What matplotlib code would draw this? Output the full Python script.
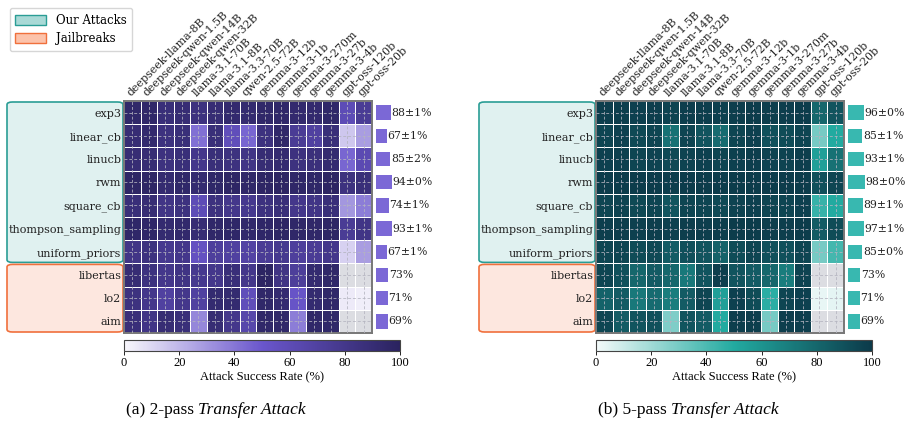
import numpy as np
import matplotlib
matplotlib.use("Agg")
import matplotlib.pyplot as plt
from matplotlib.colors import LinearSegmentedColormap
from matplotlib.patches import FancyBboxPatch, Patch

models = ["deepseek-llama-8B", "deepseek-qwen-1.5B", "deepseek-qwen-14B", "deepseek-qwen-32B",
          "llama-3.1-70B", "llama-3.1-8B", "llama-3.3-70B", "qwen-2.5-72B", "gemma-3-12b",
          "gemma-3-1b", "gemma-3-270m", "gemma-3-27b", "gemma-3-4b", "gpt-oss-120b", "gpt-oss-20b"]
attacks = ["exp3", "linear_cb", "linucb", "rwm", "square_cb", "thompson_sampling",
           "uniform_priors", "libertas", "lo2", "aim"]
n_ours = 7

# 2-pass transfer attack success rate (%)
asr_2pass = [
    [95, 95, 88, 90, 85, 90, 93, 92, 95, 95, 93, 93, 95, 60, 75],
    [90, 93, 85, 88, 42, 88, 58, 45, 85, 95, 75, 70, 88, 15, 28],
    [90, 90, 85, 88, 80, 88, 85, 82, 90, 92, 85, 87, 92, 45, 62],
    [97, 97, 92, 95, 92, 96, 97, 95, 97, 98, 96, 96, 98, 85, 88],
    [88, 90, 82, 85, 60, 85, 80, 78, 85, 88, 80, 82, 88, 30, 38],
    [96, 96, 92, 94, 90, 95, 96, 94, 96, 97, 95, 95, 97, 75, 82],
    [82, 85, 78, 80, 55, 72, 70, 68, 75, 78, 72, 75, 80, 12, 28],
    [90, 85, 80, 83, 78, 80, 88, 80, 98, 83, 73, 92, 95, 0, 0],
    [85, 80, 70, 80, 70, 92, 92, 58, 95, 92, 52, 92, 95, 4, 3],
    [88, 82, 90, 88, 35, 90, 80, 65, 95, 95, 38, 95, 95, 0, 0],
]
mean_2pass = [88, 67, 85, 94, 74, 93, 67, 73, 71, 69]
std_2pass = [1, 1, 2, 0, 1, 1, 1, None, None, None]

# 5-pass transfer attack success rate (%)
asr_5pass = [
    [98, 98, 97, 98, 96, 98, 98, 97, 98, 99, 98, 98, 99, 80, 88],
    [95, 97, 93, 95, 75, 95, 88, 78, 95, 97, 90, 92, 95, 30, 50],
    [97, 97, 95, 96, 93, 96, 97, 95, 97, 98, 96, 96, 98, 55, 75],
    [99, 99, 99, 99, 98, 99, 99, 99, 99, 99, 99, 99, 99, 90, 95],
    [95, 96, 93, 95, 88, 95, 95, 93, 96, 97, 95, 95, 97, 45, 50],
    [98, 98, 97, 98, 97, 98, 98, 98, 99, 99, 98, 98, 99, 85, 92],
    [95, 95, 92, 93, 85, 90, 88, 82, 92, 95, 90, 90, 95, 30, 42],
    [95, 90, 80, 85, 80, 72, 88, 98, 88, 85, 80, 70, 96, 0, 0],
    [82, 85, 72, 78, 70, 85, 95, 55, 97, 92, 48, 95, 97, 3, 4],
    [95, 85, 88, 90, 28, 88, 85, 50, 98, 98, 30, 98, 98, 0, 0],
]
mean_5pass = [96, 85, 93, 98, 89, 97, 85, 73, 71, 69]
std_5pass = [0, 1, 1, 0, 1, 1, 0, None, None, None]

purple = LinearSegmentedColormap.from_list("pur", ["#f8f7fc", "#6a56cc", "#2a235f"])
teal = LinearSegmentedColormap.from_list("tea", ["#f4fafa", "#22aaa0", "#0c3a4a"])
for cm in (purple, teal):
    cm.set_bad("#dcdde2")

label_font = "DejaVu Serif"
cap_font = "Liberation Serif"

W, H = 908, 442
fig = plt.figure(figsize=(W / 100, H / 100), dpi=100)


def fx(px):
    return px / W


def fy(py):
    return 1 - py / H


def draw_panel(x0, data, means, stds, cmap, bar_color, caption_prefix):
    data = np.ma.masked_equal(np.array(data, dtype=float), 0)
    nr, nc = data.shape
    ax = fig.add_axes([fx(x0), fy(333), fx(248), 232 / H])
    mesh = ax.pcolormesh(np.arange(nc + 1), np.arange(nr + 1), data, cmap=cmap, vmin=0, vmax=100,
                         edgecolors="white", linewidth=0.7)
    ax.set_xlim(0, nc)
    ax.set_ylim(nr, 0)
    ax.set_xticks(np.arange(nc) + 0.5)
    ax.set_yticks(np.arange(nr) + 0.5)
    ax.xaxis.tick_top()
    ax.set_xticklabels(models, rotation=45, ha="left", rotation_mode="anchor",
                       fontsize=7.9, family=label_font, color="#222222")
    ax.set_yticklabels(attacks, fontsize=8, family=label_font, color="#222222")
    ax.tick_params(length=0, pad=2)
    ax.grid(True, color="#b4b4c0", linestyle=(0, (3, 2)), linewidth=0.7, alpha=0.8)
    ax.set_axisbelow(False)
    for s in ax.spines.values():
        s.set_color("#777777")
        s.set_linewidth(1.4)

    # side bars with mean values
    bx = fig.add_axes([fx(x0 + 252), fy(333), fx(17), 232 / H])
    y = np.arange(nr) + 0.5
    bx.barh(y, means, height=0.62, color=bar_color)
    bx.set_xlim(0, 100)
    bx.set_ylim(nr, 0)
    bx.axis("off")
    for yi, m, s in zip(y, means, stds):
        lab = f"{m}%" if s is None else f"{m}\u00b1{s}%"
        bx.text(m + 2, yi, lab, va="center", ha="left", fontsize=7.8, family=label_font,
                color="#222222", clip_on=False)

    # group boxes behind the row labels
    row_h = 232 / nr
    boxes = [(0, n_ours, "#e0f1f0", "#2a9d95"), (n_ours, nr, "#fde7df", "#f0703c")]
    for r0, r1, fc, ec in boxes:
        top = 101 + r0 * row_h + 1
        bot = 101 + r1 * row_h - 1
        p = FancyBboxPatch((fx(x0 - 117), fy(bot)), fx(116), (bot - top) / H,
                           boxstyle="round,pad=0,rounding_size=0.006", transform=fig.transFigure,
                           facecolor=fc, edgecolor=ec, linewidth=1.2, zorder=-1)
        fig.patches.append(p)

    # colorbar
    cax = fig.add_axes([fx(x0), fy(351), fx(276), 11 / H])
    cb = fig.colorbar(mesh, cax=cax, orientation="horizontal")
    cb.set_ticks([0, 20, 40, 60, 80, 100])
    cb.outline.set_edgecolor("#444444")
    cax.tick_params(labelsize=9, length=3, width=0.6, pad=1)
    for t in cax.get_xticklabels():
        t.set_family(cap_font)
    cb.set_label("Attack Success Rate (%)", fontsize=9, family=cap_font, labelpad=1)

    # caption
    t1 = fig.text(fx(x0 + 2), fy(414), caption_prefix, fontsize=12.5, family=cap_font,
                  ha="left", va="baseline")
    fig.text(0, 0, "Transfer Attack", fontsize=12.5, family=cap_font, style="italic",
             ha="left", va="baseline")
    return t1


t_a = draw_panel(124, asr_2pass, mean_2pass, std_2pass, purple, "#7b68d6", "(a) 2-pass ")
t_b = draw_panel(596, asr_5pass, mean_5pass, std_5pass, teal, "#38b8b0", "(b) 5-pass ")

# place italic part right after the caption prefix
fig.canvas.draw()
r = fig.canvas.get_renderer()
italic_texts = [t for t in fig.texts if t.get_text() == "Transfer Attack"]
for t_pre, t_it in zip([t_a, t_b], italic_texts):
    bb = t_pre.get_window_extent(renderer=r)
    x_end = bb.x1 / fig.bbox.width
    t_it.set_position((x_end, t_pre.get_position()[1]))

handles = [Patch(facecolor="#a9d9d6", edgecolor="#2a9d95", label="Our Attacks"),
           Patch(facecolor="#fcc3ab", edgecolor="#f0703c", label="Jailbreaks")]
fig.legend(handles=handles, loc="upper left", bbox_to_anchor=(0.004, 0.995),
           prop={"family": label_font, "size": 8.5}, frameon=True, edgecolor="#cccccc",
           handlelength=2.6, handleheight=0.9, borderpad=0.5, labelspacing=0.45)

fig.savefig("out.png", dpi=100)
